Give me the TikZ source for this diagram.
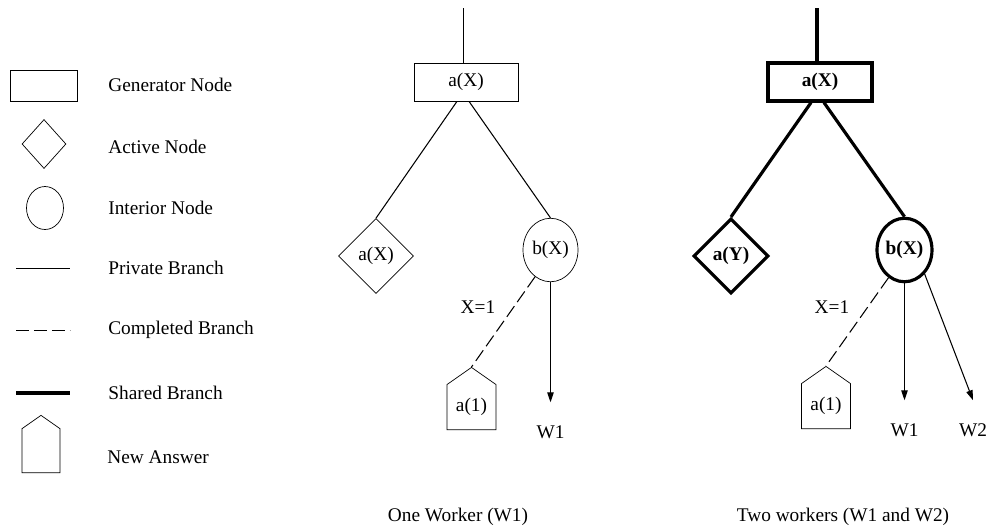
\documentclass[tikz,border=0pt]{standalone}
\usepackage{fontspec}
\setmainfont{Liberation Serif}
\usetikzlibrary{shapes.geometric}
\usetikzlibrary{shapes.symbols}
\usetikzlibrary{arrows.meta}
\usetikzlibrary{positioning}
\usetikzlibrary{calc}

\begin{document}
\begin{tikzpicture}[x=0.02cm, y=-0.02cm,
	every node/.style={font=\fontsize{11}{13}\selectfont},
	gennode/.style={draw, rectangle, inner sep=0pt, minimum width=2.08cm, minimum height=0.76cm},
	actnode/.style={draw, diamond, inner sep=0pt, minimum width=1.5cm, minimum height=1.5cm},
	intnode/.style={draw, ellipse, inner sep=0pt, minimum width=1.1cm, minimum height=1.27cm},
	ansnode/.style={draw, signal, signal to=north, signal pointer angle=110, inner sep=0pt, minimum width=0.98cm, minimum height=1.12cm},
	privbranch/.style={line width=0.6pt},
	complbranch/.style={line width=0.6pt, dash pattern=on 0.26cm off 0.1cm},
	sharedbranch/.style={line width=1.8pt},
	worker/.style={line width=0.6pt, -{Triangle[length=0.2cm, width=0.13cm]}},
	legtext/.style={anchor=west, inner sep=0pt}]
	\useasboundingbox (0,0) rectangle (988,529);
				% legend
	\node[gennode, minimum width=1.34cm, minimum height=0.62cm] (legGen) at (43.5,85.5) {};
	\node[legtext] (txtGen) at (108,85) {Generator Node};
	\node[actnode, minimum width=0.88cm, minimum height=0.98cm] (legAct) at (44,144) {};
	\node[legtext] (txtAct) at (108,147) {Active Node};
	\node[intnode, minimum width=0.74cm, minimum height=0.86cm] (legInt) at (45,208) {};
	\node[legtext] (txtInt) at (108,208) {Interior Node};
	\draw[privbranch] (16,268.5) -- (70,268.5);
	\node[legtext] (txtPriv) at (108,268) {Private Branch};
	\draw[complbranch] (16,330.5) -- (70,330.5);
	\node[legtext] (txtCompl) at (108,330) {Completed Branch};
	\draw[sharedbranch] (16,393) -- (70,393);
	\node[legtext] (txtShared) at (108,393) {Shared Branch};
	\node[ansnode, anchor=south, minimum width=0.76cm, minimum height=0.88cm] (legAns) at (41,473) {};
	\node[legtext] (txtAns) at (107,457) {New Answer};
				% one worker
	\coordinate (top1) at (463.5,8);
	\node[gennode] (gen1) at (466,82) {a(X)};
	\node[actnode] (act1) at (376,256) {a(X)};
	\node[intnode] (int1) at (550.5,250) {b(X)};
	\node[ansnode, anchor=south] (ans1) at (471.5,430) {a(1)};
	\node (xeq1) at (478,307) {X=1};
	\node (w1a) at (550.5,432) {W1};
	\node (cap1) at (458,517) {One Worker (W1)};
	\draw[privbranch] (top1) -- (top1 |- gen1.north);
	\draw[privbranch] ([xshift=-0.18cm]gen1.south) -- (act1.north);
	\draw[privbranch] ([xshift=0.06cm]gen1.south) -- (int1.north);
	\draw[complbranch] (int1.240) -- (ans1.north);
	\draw[worker] (int1.south) -- ([yshift=0.34cm]w1a.north);
				% two workers
	\coordinate (top2) at (817,8);
	\node[gennode, sharedbranch] (gen2) at (820,82) {\textbf{a(X)}};
	\node[actnode, sharedbranch] (act2) at (731,256) {\textbf{a(Y)}};
	\node[intnode, sharedbranch] (int2) at (904.5,250) {\textbf{b(X)}};
	\node[ansnode, anchor=south] (ans2) at (826,429) {a(1)};
	\node (xeq2) at (832,307) {X=1};
	\node (w1b) at (904.5,430) {W1};
	\node (w2b) at (973,430) {W2};
	\node (cap2) at (843,517) {Two workers (W1 and W2)};
	\draw[sharedbranch] (top2) -- (top2 |- gen2.north);
	\draw[sharedbranch] ([xshift=-0.18cm]gen2.south) -- (act2.north);
	\draw[sharedbranch] ([xshift=0.08cm]gen2.south) -- (int2.north);
	\draw[complbranch] (int2.240) -- (ans2.north);
	\draw[worker] (int2.south) -- ([yshift=0.34cm]w1b.north);
	\draw[worker] (int2.-50) -- ([yshift=0.34cm]w2b.north);
\end{tikzpicture}
\end{document}
